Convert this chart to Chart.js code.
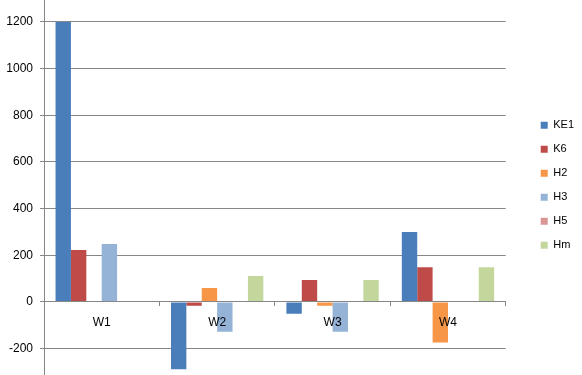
<!DOCTYPE html>
<html>
<head>
<meta charset="utf-8">
<script src="https://cdn.jsdelivr.net/npm/chart.js@4/dist/chart.umd.min.js"></script>
<style>
html,body{margin:0;padding:0;background:#fff;overflow:hidden;width:582px;height:375px;}
#wrap{position:absolute;left:0;top:-30px;width:582px;height:430px;}
</style>
</head>
<body>
<div id="wrap"><canvas id="c" width="582" height="430"></canvas></div>
<script>
const categories = ["W1", "W2", "W3", "W4"];
const seriesNames = ["KE1", "K6", "H2", "H3", "H5", "Hm"];
const KE1 = [1200, -288, -50, 300];
const K6  = [223, -16, 94, 149];
const H2  = [0, 60, -16, -174];
const H3  = [249, -127, -127, 0];
const H5  = [0, 0, 0, 0];
const Hm  = [4, 111, 94, 149];
const yTicks = [-400, -200, 0, 200, 400, 600, 800, 1000, 1200, 1400];
const colors = ["#4A7EBB", "#BE4B48", "#F79646", "#95B3D7", "#D99694", "#C3D69B"];
const seriesValues = [KE1, K6, H2, H3, H5, Hm];

const datasets = seriesNames.map((n, i) => ({
  label: n,
  data: seriesValues[i],
  backgroundColor: colors[i],
  borderWidth: 0,
  categoryPercentage: 0.8,
  barPercentage: 1.0,
  yAxisID: 'y'
}));

const grey = '#868686';
new Chart(document.getElementById('c'), {
  type: 'bar',
  data: { labels: categories, datasets },
  options: {
    responsive: false,
    animation: false,
    events: [],
    layout: { padding: { top: 5.33, bottom: 4.67, left: 0, right: -2 } },
    plugins: {
      tooltip: { enabled: false },
      legend: {
        position: 'right',
        labels: {
          boxWidth: 7, boxHeight: 7, padding: 13,
          color: '#000',
          font: { family: 'Liberation Sans', size: 11 }
        }
      }
    },
    scales: {
      x: {
        position: { y: 0 },
        grid: { drawOnChartArea: false, drawTicks: true, tickLength: 4, color: grey, z: 1 },
        border: { color: grey, width: 1, z: 1 },
        ticks: { z: 2, color: '#000', padding: 9, font: { family: 'Liberation Sans', size: 12 } }
      },
      y: {
        min: yTicks[0],
        max: yTicks[yTicks.length - 1],
        afterBuildTicks: s => { s.ticks = yTicks.map(v => ({ value: v })); },
        afterFit: s => { s.width = 44; s.paddingTop = 0; s.paddingBottom = 0; },
        grid: { color: grey, tickLength: 4, lineWidth: 1 },
        border: { color: grey, width: 1 },
        ticks: { color: '#000', padding: 7, font: { family: 'Liberation Sans', size: 12 }, callback: v => String(v) }
      },
      spacer: {
        type: 'linear',
        position: 'right',
        display: true,
        grid: { display: false },
        border: { display: false },
        ticks: { display: false },
        afterFit: s => { s.width = 22; s.paddingTop = 0; s.paddingBottom = 0; }
      }
    }
  }
});
</script>
</body>
</html>
